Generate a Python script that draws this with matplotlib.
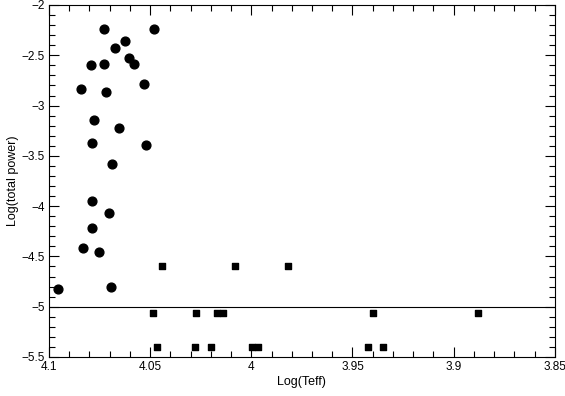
import matplotlib
matplotlib.use("Agg")
import matplotlib.pyplot as plt
from matplotlib.ticker import MultipleLocator, FuncFormatter

plt.rcParams["font.family"] = ["Liberation Sans", "DejaVu Sans"]

# circles
circle_teff = [4.0727, 4.048, 4.0623, 4.0674, 4.0603, 4.0582, 4.0791, 4.0727,
               4.0529, 4.084, 4.072, 4.0778, 4.0654, 4.0786, 4.0521, 4.0689,
               4.0789, 4.0704, 4.0786, 4.083, 4.0753, 4.0954, 4.0695]
circle_power = [-2.236, -2.236, -2.358, -2.43, -2.53, -2.583, -2.60, -2.59,
                -2.785, -2.835, -2.868, -3.146, -3.223, -3.372, -3.395, -3.578,
                -3.948, -4.07, -4.214, -4.418, -4.452, -4.826, -4.806]

# squares
square_teff = [4.0442, 4.0081, 3.9818,
               4.0488, 4.0274, 4.0168, 4.014, 3.94, 3.8879,
               4.0468, 4.0277, 4.0198, 3.9996, 3.9966, 3.9425, 3.9351]
square_power = [-4.6, -4.6, -4.6,
                -5.06, -5.06, -5.06, -5.06, -5.06, -5.06,
                -5.4, -5.4, -5.4, -5.4, -5.4, -5.4, -5.4]

threshold = -5.0


def fmt(v, pos):
    s = ("%g" % round(v, 3))
    return s.replace("-", "\u2212")


fig = plt.figure(figsize=(5.65, 3.96), dpi=100)
ax = fig.add_axes([0.0867, 0.0985, 0.8953, 0.8889])

ax.scatter(circle_teff, circle_power, s=40, marker="o", color="black", zorder=3, clip_on=False)
ax.scatter(square_teff, square_power, s=20, marker="s", color="black", zorder=3)
ax.axhline(threshold, color="black", lw=0.8)

ax.set_xlim(4.1, 3.85)
ax.set_ylim(-5.5, -2)
ax.xaxis.set_major_locator(MultipleLocator(0.05))
ax.xaxis.set_minor_locator(MultipleLocator(0.01))
ax.yaxis.set_major_locator(MultipleLocator(0.5))
ax.yaxis.set_minor_locator(MultipleLocator(0.1))
ax.xaxis.set_major_formatter(FuncFormatter(fmt))
ax.yaxis.set_major_formatter(FuncFormatter(fmt))

ax.tick_params(which="both", direction="in", top=True, right=True, labelsize=8.5, width=0.8)
ax.tick_params(which="major", length=7, pad=3)
ax.tick_params(which="minor", length=4)
for sp in ax.spines.values():
    sp.set_linewidth(0.8)

ax.set_xlabel("Log(Teff)", fontsize=9, labelpad=2)
ax.set_ylabel("Log(total power)", fontsize=9, labelpad=2)

fig.savefig("out.png", dpi=100)
